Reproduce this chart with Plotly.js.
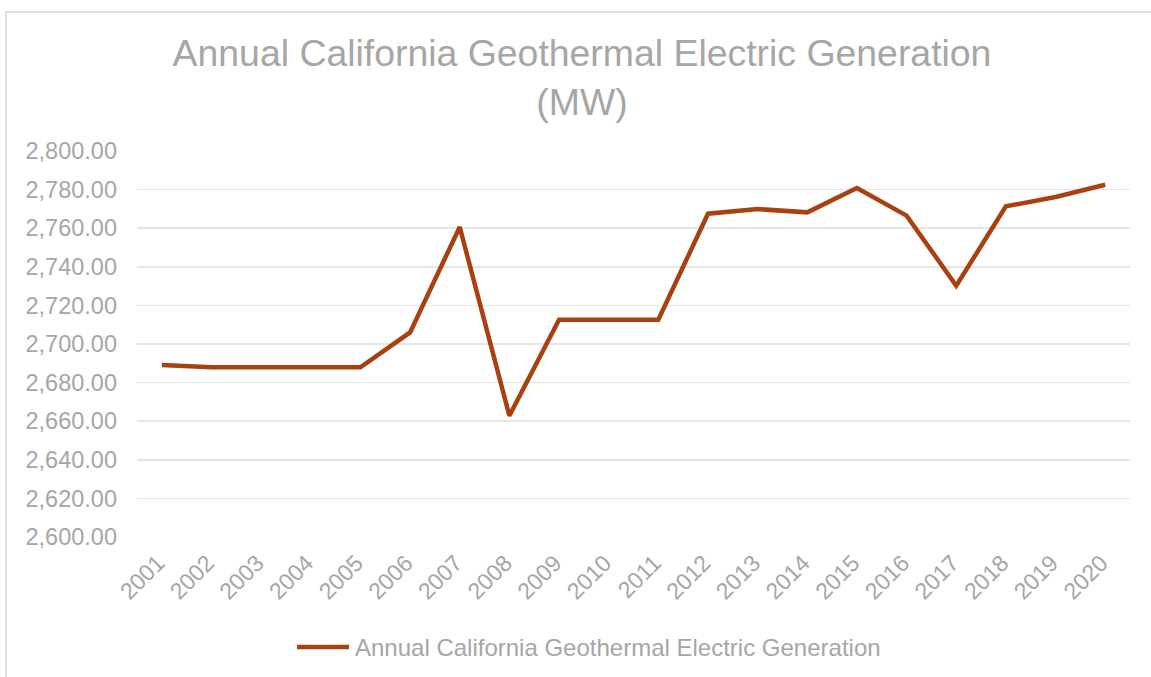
<!DOCTYPE html>
<html>
<head>
<meta charset="utf-8">
<script src="https://cdn.plot.ly/plotly-3.0.1.min.js"></script>
<style>html,body{margin:0;padding:0;background:#fff;}#chart{width:1151px;height:677px;}</style>
</head>
<body>
<div id="chart"></div>
<script>
const years = ["2001","2002","2003","2004","2005","2006","2007","2008","2009","2010",
               "2011","2012","2013","2014","2015","2016","2017","2018","2019","2020"];
const generationMW = [2689.1, 2687.9, 2687.9, 2687.9, 2687.9, 2706.0, 2760.6, 2662.8, 2712.6, 2712.6,
                      2712.6, 2767.5, 2769.9, 2768.2, 2780.8, 2766.5, 2730.2, 2771.3, 2776.2, 2782.5];
const seriesName = "Annual California Geothermal Electric Generation";
const chartTitle = "Annual California Geothermal Electric Generation<br>(MW)";
const yTicks = [2600, 2620, 2640, 2660, 2680, 2700, 2720, 2740, 2760, 2780, 2800];

const gray = "#a6a6a6";
const lineColor = "#a9400f";
const font = "Liberation Sans, Arial, sans-serif";

// plot area: left 137, right 1130, top 151, bottom 537
const W = 1151, H = 677, L = 137, R = 21, T = 151, B = 140;
const pw = W - L - R, ph = H - T - B;
const px = x => (x - L) / pw;
const py = y => (H - B - y) / ph;

const trace = {
  x: years,
  y: generationMW,
  type: "scatter",
  mode: "lines",
  name: seriesName,
  line: {color: lineColor, width: 4.5},
  showlegend: false
};

const layout = {
  width: W,
  height: H,
  paper_bgcolor: "#fff",
  plot_bgcolor: "#fff",
  margin: {l: L, r: R, t: T, b: B},
  font: {family: font, color: gray},
  showlegend: false,
  title: {
    text: chartTitle,
    font: {family: font, size: 37.4, color: gray},
    x: 582 / W, xanchor: "center",
    y: 0.902, yanchor: "top"
  },
  xaxis: {
    type: "category",
    range: [-0.5, 19.5],
    tickangle: -45,
    tickfont: {family: font, size: 23, color: gray},
    showgrid: false,
    zeroline: false,
    showline: false,
    ticks: "",
    automargin: false,
    ticklabelshift: -4,
    ticklabelstandoff: 7
  },
  yaxis: {
    range: [2600, 2800],
    tickvals: yTicks,
    tickformat: ",.2f",
    tickfont: {family: font, size: 23.5, color: gray},
    gridcolor: "#e6e6e6",
    gridwidth: 1.5,
    zeroline: false,
    showline: false,
    ticks: "",
    automargin: false,
    ticklabelstandoff: 19
  },
  shapes: [
    {
      type: "rect", xref: "paper", yref: "paper",
      x0: px(6), x1: px(1160), y0: py(690), y1: py(12),
      line: {color: "#d9d9d9", width: 1.5},
      fillcolor: "rgba(0,0,0,0)"
    },
    {
      type: "line", xref: "paper", yref: "paper",
      x0: px(297), x1: px(349), y0: py(647), y1: py(647),
      line: {color: lineColor, width: 4.5}
    }
  ],
  annotations: [{
    xref: "paper", yref: "paper",
    x: px(353), y: py(647),
    xanchor: "left", yanchor: "middle",
    text: seriesName,
    showarrow: false,
    font: {family: font, size: 24, color: gray}
  }]
};

Plotly.newPlot("chart", [trace], layout, {displayModeBar: false, staticPlot: true});
</script>
</body>
</html>
